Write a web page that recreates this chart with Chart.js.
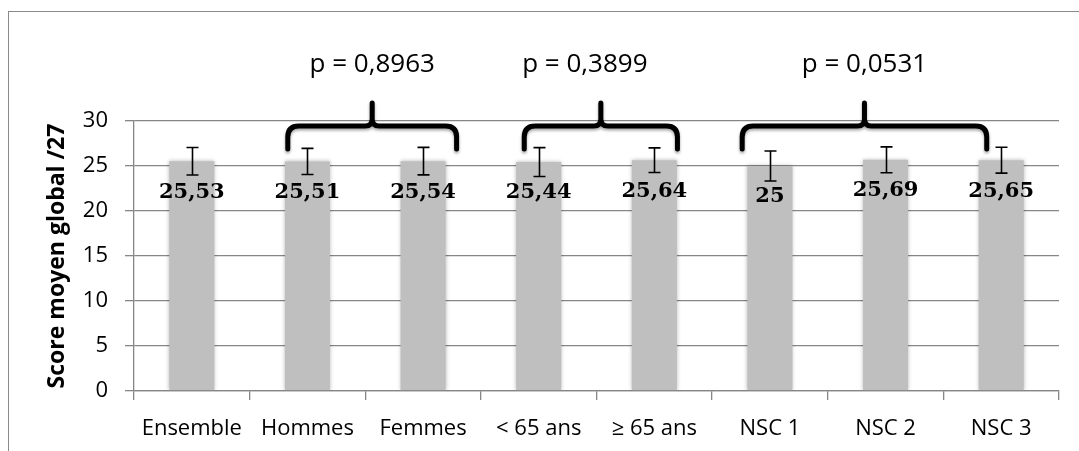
<!DOCTYPE html>
<html>
<head>
<meta charset="utf-8">
<script src="https://cdn.jsdelivr.net/npm/chart.js@4/dist/chart.umd.min.js"></script>
<style>
  html, body { margin: 0; padding: 0; background: #fff; }
  #wrap { position: relative; width: 1079px; height: 451px; }
  #frame { position: absolute; left: 8px; top: 11px; right: 0; bottom: 0;
           border-top: 1.5px solid #8a8a8a; border-left: 1.5px solid #8a8a8a; }
</style>
</head>
<body>
<div id="wrap">
  <div id="frame"></div>
  <canvas id="chart" width="1079" height="451"></canvas>
</div>
<script>
var categories = ["Ensemble", "Hommes", "Femmes", "< 65 ans", "≥ 65 ans", "NSC 1", "NSC 2", "NSC 3"];
var scores = [25.53, 25.51, 25.54, 25.44, 25.64, 25, 25.69, 25.65];
var scoreLabels = ["25,53", "25,51", "25,54", "25,44", "25,64", "25", "25,69", "25,65"];
var errors = [1.53, 1.45, 1.53, 1.6, 1.37, 1.66, 1.44, 1.44];
var groupFirst = [1, 3, 5];
var groupLast = [2, 4, 7];
var pValues = ["p = 0,8963", "p = 0,3899", "p = 0,0531"];
var yTicks = [0, 5, 10, 15, 20, 25, 30];

// bar shadow
var barShadow = {
  id: 'barShadow',
  beforeDatasetDraw: function(chart) {
    var ctx = chart.ctx;
    ctx.save();
    ctx.shadowColor = 'rgba(0,0,0,0.28)';
    ctx.shadowBlur = 4;
  },
  afterDatasetDraw: function(chart) {
    chart.ctx.restore();
  }
};

// error bars, value labels, braces and p values
var overlay = {
  id: 'overlay',
  afterDraw: function(chart) {
    var ctx = chart.ctx;
    var x = chart.scales.x, y = chart.scales.y;
    var area = chart.chartArea;
    var catW = x.getPixelForValue(1) - x.getPixelForValue(0);

    ctx.save();
    // error bars
    ctx.strokeStyle = '#000';
    ctx.lineWidth = 1.6;
    for (var i = 0; i < scores.length; i++) {
      var cx = Math.round(x.getPixelForValue(i)) + 0.5;
      var yt = y.getPixelForValue(scores[i] + errors[i]);
      var yb = y.getPixelForValue(scores[i] - errors[i]);
      ctx.beginPath();
      ctx.moveTo(cx, yt); ctx.lineTo(cx, yb);
      ctx.moveTo(cx - 6, yt); ctx.lineTo(cx + 6, yt);
      ctx.moveTo(cx - 6, yb); ctx.lineTo(cx + 6, yb);
      ctx.stroke();
    }
    // value labels
    ctx.fillStyle = '#000';
    ctx.font = 'bold 21px "DejaVu Serif"';
    ctx.textAlign = 'center';
    ctx.textBaseline = 'middle';
    for (var j = 0; j < scores.length; j++) {
      ctx.fillText(scoreLabels[j], x.getPixelForValue(j), y.getPixelForValue(scores[j]) + 31);
    }
    // braces
    var offs = [[-0.17, 0.29], [-0.125, 0.2], [-0.24, -0.125]];
    var pShift = [0, -16, 0];
    var yEnd = area.top + 28, yH = area.top + 5, yPeak = area.top - 18;
    var r = 11, s = 7;
    for (var k = 0; k < groupFirst.length; k++) {
      var x0 = x.getPixelForValue(groupFirst[k]) + offs[k][0] * catW;
      var x1 = x.getPixelForValue(groupLast[k]) + offs[k][1] * catW;
      var xm = (x0 + x1) / 2;
      ctx.save();
      ctx.shadowColor = 'rgba(0,0,0,0.35)';
      ctx.shadowBlur = 3;
      ctx.shadowOffsetY = 2;
      ctx.strokeStyle = '#000';
      ctx.lineWidth = 5;
      ctx.lineJoin = 'round';
      ctx.lineCap = 'round';
      ctx.beginPath();
      ctx.moveTo(x0, yEnd);
      ctx.lineTo(x0, yH + r);
      ctx.quadraticCurveTo(x0, yH, x0 + r, yH);
      ctx.lineTo(xm - s, yH);
      ctx.quadraticCurveTo(xm, yH, xm, yH - s);
      ctx.lineTo(xm, yPeak);
      ctx.moveTo(xm, yH - s);
      ctx.quadraticCurveTo(xm, yH, xm + s, yH);
      ctx.lineTo(x1 - r, yH);
      ctx.quadraticCurveTo(x1, yH, x1, yH + r);
      ctx.lineTo(x1, yEnd);
      ctx.stroke();
      ctx.restore();

      ctx.font = '26px "Open Sans"';
      ctx.fillStyle = '#000';
      ctx.textAlign = 'center';
      ctx.textBaseline = 'middle';
      ctx.fillText(pValues[k], xm + pShift[k], area.top - 56);
    }
    ctx.restore();
  }
};

new Chart(document.getElementById('chart'), {
  type: 'bar',
  data: {
    labels: categories,
    datasets: [{
      data: scores,
      backgroundColor: '#bfbfbf',
      borderWidth: 0,
      categoryPercentage: 1,
      barPercentage: 0.39
    }]
  },
  options: {
    responsive: false,
    animation: false,
    layout: { padding: { top: 121, right: 20, bottom: 0, left: 44 } },
    plugins: { legend: { display: false }, tooltip: { enabled: false } },
    scales: {
      x: {
        afterFit: function(s) { s.height = 60; },
        grid: { drawOnChartArea: false, drawTicks: true, tickLength: 9, color: '#868686', lineWidth: 1.3 },
        border: { color: '#868686', width: 1.3 },
        ticks: { color: '#000', font: { family: 'Open Sans', size: 22 }, padding: 16, maxRotation: 0, autoSkip: false }
      },
      y: {
        min: 0, max: 30,
        afterFit: function(s) { s.width = 90; },
        afterBuildTicks: function(s) { s.ticks = yTicks.map(function(v) { return { value: v }; }); },
        grid: { color: '#868686', lineWidth: 1.3, tickLength: 9 },
        border: { color: '#868686', width: 1.3 },
        ticks: { color: '#000', font: { family: 'Open Sans', size: 22 }, padding: 17 },
        title: {
          display: true,
          text: 'Score moyen global /27',
          color: '#000',
          font: { family: 'Open Sans', size: 23, weight: 'bold' },
          padding: { top: 0, bottom: 0 }
        }
      }
    }
  },
  plugins: [barShadow, overlay]
});
</script>
</body>
</html>
